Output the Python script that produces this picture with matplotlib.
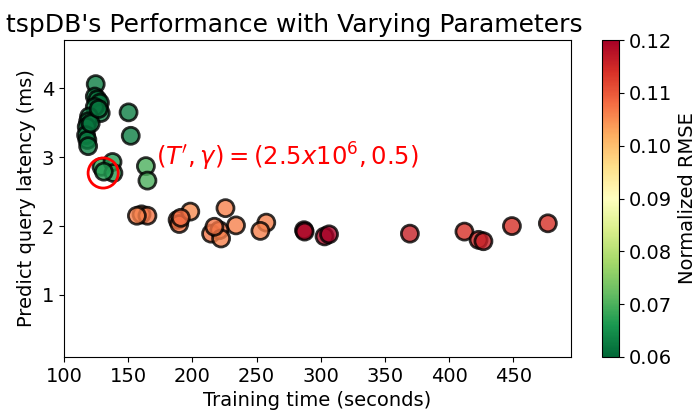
import numpy as np
import matplotlib
matplotlib.use('Agg')
import matplotlib.pyplot as plt

# tiempos de entrenamiento (s), latencia de prediccion (ms) y RMSE normalizado
train_time = [124.7, 124.0, 126.0, 128.0, 128.6, 124.0, 119.5, 118.8, 117.7, 117.2,
              118.2, 118.8, 120.8, 127.0,
              150.3, 152.0, 129.2, 137.8, 138.5, 131.0, 163.8, 165.0,
              160.4, 165.0, 156.8, 188.5, 189.8, 198.4, 191.0, 225.8, 234.0, 214.6,
              221.0, 222.4, 217.2, 257.6, 253.0,
              287.0, 287.5, 303.0, 306.5,
              369.5, 412.0, 423.0, 426.8, 449.0, 477.0]
latency = [4.06, 3.88, 3.84, 3.79, 3.64, 3.73, 3.59, 3.52, 3.44, 3.32,
           3.25, 3.16, 3.49, 3.70,
           3.65, 3.31, 2.86, 2.93, 2.77, 2.79, 2.87, 2.66,
           2.17, 2.15, 2.15, 2.09, 2.03, 2.21, 2.12, 2.26, 2.01, 1.89,
           1.94, 1.82, 1.99, 2.05, 1.93,
           1.94, 1.92, 1.85, 1.88,
           1.89, 1.92, 1.80, 1.78, 2.00, 2.04]
rmse = [0.063, 0.062, 0.062, 0.062, 0.063, 0.062, 0.062, 0.063, 0.062, 0.062,
        0.062, 0.063, 0.062, 0.062,
        0.063, 0.063, 0.068, 0.067, 0.067, 0.067, 0.070, 0.070,
        0.106, 0.107, 0.106, 0.108, 0.107, 0.105, 0.108, 0.106, 0.106, 0.107,
        0.107, 0.106, 0.107, 0.106, 0.106,
        0.120, 0.119, 0.119, 0.120,
        0.116, 0.114, 0.115, 0.116, 0.114, 0.114]

# configuracion elegida (T', gamma)
chosen_time = 130.5
chosen_latency = 2.77

fig = plt.figure(figsize=(6.98, 4.13), dpi=100)
ax = fig.add_axes([0.0917, 0.1356, 0.7263, 0.7675])
cax = fig.add_axes([0.8625, 0.1356, 0.0244, 0.7675])

sc = ax.scatter(train_time, latency, c=rmse, cmap='RdYlGn_r', vmin=0.06, vmax=0.12,
                s=150, edgecolors='black', linewidths=2, alpha=0.8)
ax.scatter([chosen_time], [chosen_latency], s=470, facecolors='none',
           edgecolors='red', linewidths=2)
ax.text(172.0, 3.0, r"$(T', \gamma) = (2.5x10^6, 0.5)$", color='red',
        fontsize=17.5, va='center', ha='left')

ax.set_xlim(100, 495)
ax.set_ylim(0.1, 4.7)
ax.set_xticks([100, 150, 200, 250, 300, 350, 400, 450])
ax.set_yticks([1, 2, 3, 4])
ax.tick_params(labelsize=14)
ax.set_xlabel('Training time (seconds)', fontsize=14)
ax.set_ylabel('Predict query latency (ms)', fontsize=14)
ax.set_title("tspDB's Performance with Varying Parameters", fontsize=18, x=0.455)

cb = fig.colorbar(sc, cax=cax)
cb.solids.set_alpha(1)
cb.ax.tick_params(labelsize=14)
cb.set_label('Normalized RMSE', fontsize=14)

fig.savefig('out.png', dpi=100)
